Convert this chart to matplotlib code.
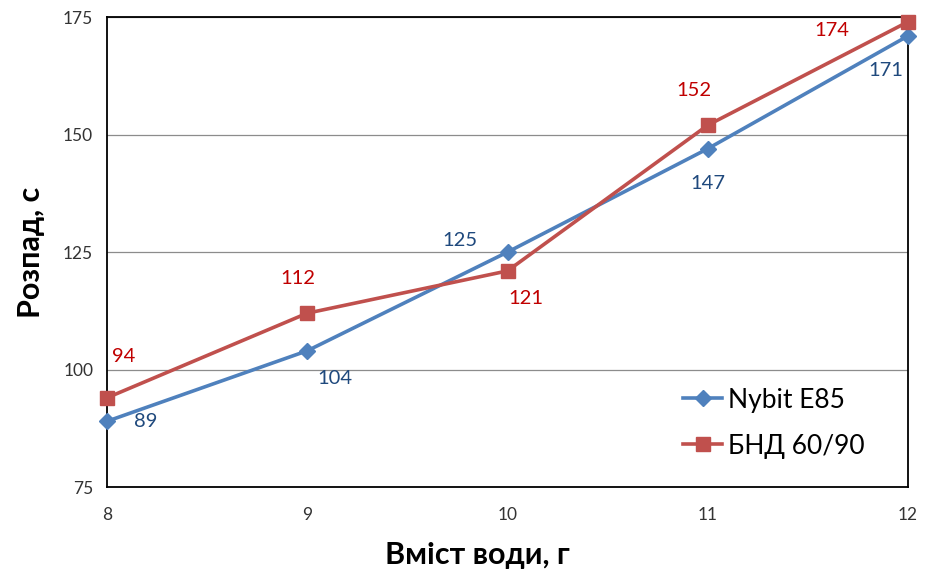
import matplotlib
matplotlib.use("Agg")
import matplotlib.pyplot as plt

plt.rcParams['font.family'] = ['Lato', 'DejaVu Sans']

water = [8, 9, 10, 11, 12]
nybit = [89, 104, 125, 147, 171]
bnd = [94, 112, 121, 152, 174]
series_names = ["Nybit E85", "БНД 60/90"]
y_ticks = [75, 100, 125, 150, 175]

blue = "#4F81BD"
red = "#C0504D"
blue_txt = "#1F497D"
red_txt = "#C00000"

fig = plt.figure(figsize=(9.25, 5.71), dpi=100)
ax = fig.add_axes([0.1157, 0.147, 0.8659, 0.823])

ax.plot(water, nybit, color=blue, lw=2.6, marker="D", ms=8.5, label=series_names[0],
        zorder=3, clip_on=False)
ax.plot(water, bnd, color=red, lw=2.6, marker="s", ms=10, label=series_names[1],
        zorder=3, clip_on=False)

# per-point label offsets in points
nybit_off = [(28, 0), (20, -20), (-34, 8), (0, -25), (-16, -25)]
bnd_off = [(12, 30), (-7, 25), (13, -20), (-10, 25), (-55, -6)]
for x, y, (dx, dy) in zip(water, nybit, nybit_off):
    ax.annotate(str(y), (x, y), xytext=(dx, dy), textcoords="offset points",
                ha="center", va="center", color=blue_txt, fontsize=14.5)
for x, y, (dx, dy) in zip(water, bnd, bnd_off):
    ax.annotate(str(y), (x, y), xytext=(dx, dy), textcoords="offset points",
                ha="center", va="center", color=red_txt, fontsize=14.5)

ax.set_xlim(8, 12)
ax.set_ylim(75, 175)
ax.set_xticks(water)
ax.set_yticks(y_ticks)
ax.yaxis.grid(True, color="#8C8C8C", lw=0.9)
ax.set_axisbelow(True)
for s in ax.spines.values():
    s.set_color("black")
    s.set_linewidth(1.3)
ax.tick_params(axis="both", length=0, labelsize=12.5, colors="#333333", pad=10)
ax.tick_params(axis="x", pad=14)

ax.set_xlabel("Вміст води, г", fontsize=22, fontweight="bold")
ax.xaxis.set_label_coords(0.462, -0.115)
ax.set_ylabel("Розпад, с", fontsize=22, fontweight="bold")
ax.yaxis.set_label_coords(-0.077, 0.5)

ax.legend(loc="lower right", bbox_to_anchor=(0.975, 0.01), frameon=False,
          fontsize=19, handlelength=1.5, labelspacing=0.8, handletextpad=0.2)

fig.savefig("out.png", dpi=100)
